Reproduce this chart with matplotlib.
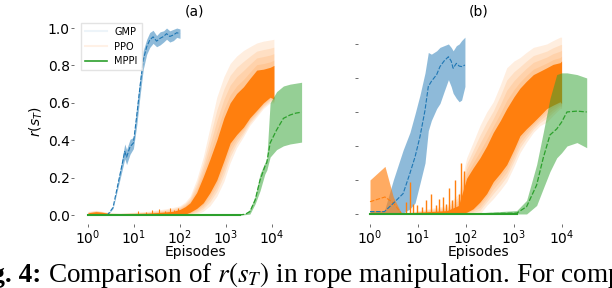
import matplotlib.pyplot as plt
import numpy as np
from matplotlib.lines import Line2D

# ---- panel (a) ----
gmp_a_ep = [1, 2, 2.7, 3.5, 5.4, 6.3, 6.9, 8.2, 9.7, 11.4, 13.5, 15.9, 18.9, 22, 26, 31, 37, 44, 51, 60, 72, 85, 100]
gmp_a_mean = [0.0, 0.0, 0.003, 0.04, 0.26, 0.34, 0.31, 0.365, 0.385, 0.525, 0.686, 0.83, 0.90, 0.936, 0.953, 0.93, 0.945, 0.955, 0.97, 0.955, 0.963, 0.975, 0.97]
gmp_a_lo = [0.0, 0.0, 0.001, 0.035, 0.23, 0.30, 0.27, 0.325, 0.355, 0.475, 0.636, 0.78, 0.86, 0.896, 0.918, 0.90, 0.91, 0.925, 0.94, 0.925, 0.933, 0.95, 0.945]
gmp_a_hi = [0.0, 0.0, 0.005, 0.045, 0.29, 0.38, 0.35, 0.405, 0.415, 0.575, 0.736, 0.88, 0.94, 0.976, 0.988, 0.96, 0.98, 0.985, 1.0, 0.985, 0.993, 1.0, 0.995]

ppo_a_ep = [1, 1.5, 2, 3, 5, 10, 20, 40, 70, 100, 130, 165, 230, 320, 450, 630, 900, 1230, 1700, 2400, 3300, 4650, 6500, 9100, 11000]
ppo_a_dense_lo = [0.0, 0.0, 0.0, 0.0, 0.0, 0.0, 0.0, 0.0, 0.0, 0.002, 0.005, 0.015, 0.035, 0.065, 0.12, 0.187, 0.29, 0.385, 0.43, 0.47, 0.52, 0.56, 0.60, 0.63, 0.62]
ppo_a_dense_hi = [0.012, 0.018, 0.015, 0.008, 0.006, 0.008, 0.01, 0.015, 0.02, 0.03, 0.045, 0.065, 0.12, 0.205, 0.30, 0.40, 0.52, 0.60, 0.65, 0.686, 0.73, 0.775, 0.78, 0.79, 0.80]
ppo_a_band_lo = [0.0, 0.0, 0.0, 0.0, 0.0, 0.0, 0.0, 0.0, 0.0, 0.0, 0.0, 0.0, 0.005, 0.02, 0.05, 0.10, 0.18, 0.28, 0.36, 0.42, 0.48, 0.525, 0.57, 0.60, 0.60]
ppo_a_band_hi = [0.02, 0.025, 0.02, 0.012, 0.01, 0.015, 0.02, 0.03, 0.04, 0.05, 0.07, 0.10, 0.19, 0.31, 0.47, 0.63, 0.74, 0.81, 0.85, 0.88, 0.90, 0.92, 0.93, 0.936, 0.94]
ppo_a_spike_ep = [12, 18, 25, 35, 48, 60, 75, 90]
ppo_a_spike_val = [0.02, 0.015, 0.025, 0.03, 0.02, 0.035, 0.025, 0.04]

mppi_a_ep = [1, 10, 100, 1000, 2000, 2600, 3300, 4300, 5500, 7000, 7700, 9100, 12600, 17700, 24700, 33000, 44000]
mppi_a_mean = [0.0, 0.0, 0.0, 0.0, 0.001, 0.004, 0.018, 0.08, 0.187, 0.26, 0.28, 0.385, 0.455, 0.517, 0.535, 0.545, 0.55]
mppi_a_lo = [0.0, 0.0, 0.0, 0.0, 0.0, 0.002, 0.005, 0.06, 0.13, 0.22, 0.24, 0.31, 0.35, 0.37, 0.38, 0.385, 0.39]
mppi_a_hi = [0.0, 0.0, 0.0, 0.001, 0.004, 0.008, 0.03, 0.10, 0.22, 0.28, 0.30, 0.60, 0.66, 0.69, 0.70, 0.705, 0.71]

# ---- panel (b) ----
gmp_b_ep = [1, 2, 3.06, 4.9, 6.8, 8.7, 11, 14, 16.4, 19, 24.5, 28.7, 35, 43, 49, 54, 63, 72, 81, 95]
gmp_b_mean = [0.014, 0.014, 0.063, 0.12, 0.24, 0.337, 0.455, 0.61, 0.75, 0.78, 0.82, 0.867, 0.90, 0.925, 0.90, 0.857, 0.886, 0.87, 0.867, 0.876]
gmp_b_lo = [0.005, 0.005, 0.0, 0.005, 0.03, 0.065, 0.18, 0.30, 0.49, 0.55, 0.62, 0.65, 0.72, 0.79, 0.75, 0.71, 0.68, 0.66, 0.67, 0.75]
gmp_b_hi = [0.02, 0.02, 0.2, 0.376, 0.48, 0.59, 0.70, 0.83, 0.95, 0.94, 0.96, 0.98, 0.99, 1.0, 0.98, 0.96, 0.99, 1.0, 1.02, 1.04]

ppo_b_early_ep = [1, 2.05, 3.06, 4.6]
ppo_b_early_mean = [0.072, 0.10, 0.065, 0.0]
ppo_b_early_hi = [0.2, 0.28, 0.10, 0.0]

ppo_b_ep = [4.6, 10, 40, 70, 103, 140, 195, 270, 370, 520, 705, 1000, 1330, 1800, 2530, 3500, 4800, 6500, 9100, 9800]
ppo_b_dense_lo = [0.0, 0.0, 0.0, 0.0, 0.01, 0.03, 0.07, 0.12, 0.19, 0.24, 0.29, 0.38, 0.46, 0.50, 0.54, 0.58, 0.62, 0.64, 0.66, 0.65]
ppo_b_dense_hi = [0.0, 0.01, 0.02, 0.05, 0.21, 0.27, 0.33, 0.40, 0.48, 0.55, 0.62, 0.69, 0.74, 0.78, 0.82, 0.84, 0.86, 0.88, 0.89, 0.90]
ppo_b_band_lo = [0.0, 0.0, 0.0, 0.0, 0.0, 0.0, 0.0, 0.05, 0.09, 0.14, 0.19, 0.28, 0.36, 0.42, 0.48, 0.52, 0.54, 0.58, 0.62, 0.62]
ppo_b_band_hi = [0.0, 0.02, 0.05, 0.12, 0.33, 0.42, 0.52, 0.60, 0.66, 0.76, 0.86, 0.90, 0.92, 0.95, 0.98, 0.99, 1.0, 1.02, 1.04, 1.04]
ppo_b_spike_ep = [5.5, 6.8, 8, 9.4, 12, 15, 19, 24, 28, 33, 38, 45, 52, 60, 70, 80, 90]
ppo_b_spike_val = [0.07, 0.19, 0.06, 0.05, 0.04, 0.08, 0.12, 0.05, 0.09, 0.10, 0.06, 0.15, 0.08, 0.20, 0.12, 0.30, 0.25]

mppi_b_ep = [1, 10, 100, 1140, 1830, 2960, 4070, 5620, 7760, 9800, 12700, 20500, 32700]
mppi_b_mean = [0.0, 0.0, 0.0, 0.005, 0.043, 0.17, 0.33, 0.465, 0.50, 0.54, 0.60, 0.605, 0.60]
mppi_b_lo = [0.0, 0.0, 0.0, 0.0, 0.0, 0.05, 0.15, 0.25, 0.33, 0.36, 0.40, 0.42, 0.39]
mppi_b_hi = [0.0, 0.0, 0.002, 0.02, 0.08, 0.29, 0.48, 0.68, 0.82, 0.83, 0.83, 0.82, 0.80]

xticks = [1, 10, 100, 1000, 10000]

blue, orange, green = '#1f77b4', '#ff7f0e', '#2ca02c'
dash = (0, (4, 1.5))

fig = plt.figure(figsize=(6.12, 2.88), dpi=100)
W, H = 612, 288


def make_axes(left, right, top, bottom):
    return fig.add_axes([left / W, (H - bottom) / H, (right - left) / W, (bottom - top) / H])


def draw_ppo(ax, ep, dlo, dhi, blo, bhi):
    # faded outer band built from a few stacked layers, solid dense core
    ep = np.array(ep)
    dlo, dhi, blo, bhi = map(np.array, (dlo, dhi, blo, bhi))
    for f in (0.0, 0.3, 0.55, 0.8):
        ax.fill_between(ep, blo + f * (dlo - blo), bhi + f * (dhi - bhi),
                        color=orange, alpha=0.13, lw=0)
    ax.fill_between(ep, dlo, dhi, color=orange, alpha=1.0, lw=0)


def style(ax, xmin_px, x0_px, dec_px, right_px, ylim):
    ax.set_xscale('log')
    ax.set_xlim(10 ** (-(x0_px - xmin_px) / dec_px), 10 ** ((right_px - x0_px) / dec_px))
    ax.set_ylim(*ylim)
    ax.set_xticks(xticks)
    ax.minorticks_off()
    for s in ax.spines.values():
        s.set_visible(False)
    ax.tick_params(labelsize=10, length=2, width=0.6, color='#555555', pad=1)
    ax.set_xlabel('Episodes', fontsize=10, labelpad=-1)
    ax.set_facecolor('white')


# (a)
ax1 = make_axes(74, 316, 20, 224)
ax1.fill_between(gmp_a_ep, gmp_a_lo, gmp_a_hi, color=blue, alpha=0.5, lw=0)
draw_ppo(ax1, ppo_a_ep, ppo_a_dense_lo, ppo_a_dense_hi, ppo_a_band_lo, ppo_a_band_hi)
ax1.vlines(ppo_a_spike_ep, 0, ppo_a_spike_val, color=orange, lw=0.8)
ax1.fill_between(mppi_a_ep, mppi_a_lo, mppi_a_hi, color=green, alpha=0.5, lw=0)
ax1.plot(gmp_a_ep, gmp_a_mean, color=blue, lw=0.8, ls=dash)
ax1.plot(mppi_a_ep, mppi_a_mean, color=green, lw=0.9, ls=dash)
ax1.plot([1, 2000], [0, 0], color=green, lw=1.5)
style(ax1, 74, 88, 46, 316, (-0.048, 1.043))
ax1.set_yticks([0, 0.2, 0.4, 0.6, 0.8, 1.0])
ax1.set_ylabel('$r(s_T)$', fontsize=10, labelpad=2, math_fontfamily='dejavusans')
ax1.set_title('(a)', fontsize=10, pad=3)
handles = [Line2D([], [], color=blue, alpha=0.08, lw=1.5),
           Line2D([], [], color=orange, alpha=0.1, lw=1.5),
           Line2D([], [], color=green, lw=1.2)]
ax1.legend(handles, ['GMP', 'PPO', 'MPPI'], loc='upper left', fontsize=7,
           bbox_to_anchor=(0.01, 1.01), frameon=True, edgecolor='#dddddd',
           fancybox=False, borderpad=0.4, labelspacing=0.5, handlelength=2.2)

# (b)
ax2 = make_axes(358, 599, 20, 224)
ax2.fill_between(gmp_b_ep, gmp_b_lo, gmp_b_hi, color=blue, alpha=0.5, lw=0)
ax2.fill_between(ppo_b_early_ep, 0, ppo_b_early_hi, color=orange, alpha=0.65, lw=0)
ax2.plot(ppo_b_early_ep, ppo_b_early_mean, color=orange, lw=0.8, ls=dash)
draw_ppo(ax2, ppo_b_ep, ppo_b_dense_lo, ppo_b_dense_hi, ppo_b_band_lo, ppo_b_band_hi)
ax2.vlines(ppo_b_spike_ep, 0, ppo_b_spike_val, color=orange, lw=1.0)
ax2.fill_between(mppi_b_ep, mppi_b_lo, mppi_b_hi, color=green, alpha=0.5, lw=0)
ax2.plot(gmp_b_ep, gmp_b_mean, color=blue, lw=0.8, ls=dash)
ax2.plot(mppi_b_ep, mppi_b_mean, color=green, lw=0.9, ls=dash)
ax2.plot([1, 1140], [0, 0], color=green, lw=1.5)
style(ax2, 358, 370, 48, 599, (-0.059, 1.141))
ax2.set_yticks([0, 0.2, 0.4, 0.6, 0.8, 1.0])
ax2.tick_params(axis='y', labelleft=False)
ax2.set_title('(b)', fontsize=10, pad=3)

# caption (cropped in the source image)
fig.text(41 / W, (H - 282) / H, 'Fig. 4:', fontsize=19.6, fontweight='bold',
         family='Liberation Serif', ha='right', va='baseline')
fig.text(48 / W, (H - 282) / H, 'Comparison of $r(s_T)$ in rope manipulation. For comparison',
         fontsize=19.6, family='Liberation Serif', ha='left', va='baseline', math_fontfamily='stix')

fig.savefig('out.png', dpi=100)
